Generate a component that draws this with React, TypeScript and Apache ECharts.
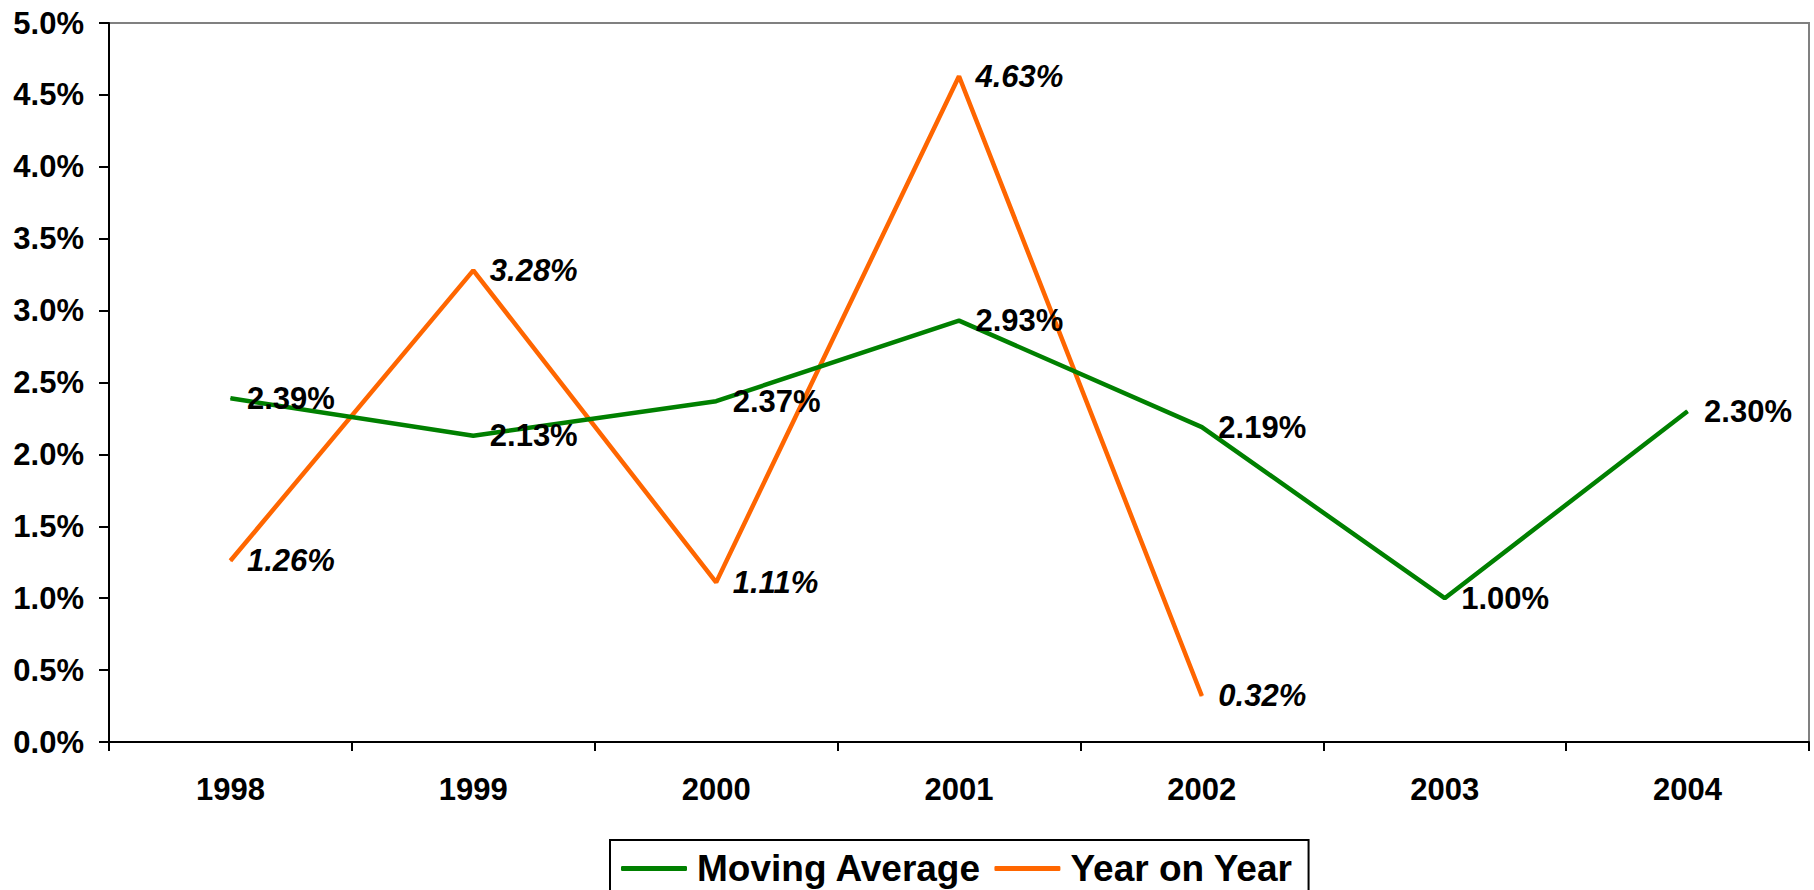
import React, { useEffect, useRef } from "react";
import * as echarts from "echarts";

const years = ["1998", "1999", "2000", "2001", "2002", "2003", "2004"];
const movingAverage = [2.39, 2.13, 2.37, 2.93, 2.19, 1.0, 2.3];
const yearOnYear: (number | null)[] = [1.26, 3.28, 1.11, 4.63, 0.32, null, null];

const FONT = "'Liberation Sans', Arial, sans-serif";

export default function App() {
  const ref = useRef<HTMLDivElement>(null);
  useEffect(() => {
    if (!ref.current) return;
    const chart = echarts.init(ref.current, undefined, { renderer: "svg" });
    const labelBase = {
      show: true,
      position: "right" as const,
      distance: 16,
      color: "#000",
      fontSize: 31,
      fontWeight: "bold" as const,
      fontFamily: FONT,
    };
    chart.setOption({
      animation: false,
      backgroundColor: "#fff",
      grid: {
        left: 109,
        right: 5,
        top: 23,
        bottom: 148,
        show: true,
        borderColor: "#808080",
        borderWidth: 2,
        backgroundColor: "transparent",
      },
      legend: {
        left: 610,
        top: 840,
        padding: [10, 16, 30, 11],
        borderColor: "#000",
        borderWidth: 2,
        itemWidth: 66,
        itemHeight: 5,
        itemGap: 13,
        icon: "roundRect",
        textStyle: {
          fontSize: 37,
          fontWeight: "bold",
          fontFamily: FONT,
          color: "#000",
          padding: [0, 0, 0, 5],
        },
        data: ["Moving Average", "Year on Year"],
      },
      xAxis: {
        type: "category",
        data: years,
        boundaryGap: true,
        axisLine: { show: true, lineStyle: { color: "#000", width: 2 } },
        axisTick: { show: true, length: 9, lineStyle: { color: "#000", width: 2 } },
        axisLabel: {
          margin: 32,
          fontSize: 31,
          fontWeight: "bold",
          fontFamily: FONT,
          color: "#000",
        },
        splitLine: { show: false },
      },
      yAxis: {
        type: "value",
        min: 0,
        max: 5,
        interval: 0.5,
        axisLine: { show: true, lineStyle: { color: "#000", width: 2 } },
        axisTick: { show: true, length: 10, lineStyle: { color: "#000", width: 2 } },
        axisLabel: {
          margin: 25,
          fontSize: 31,
          fontWeight: "bold",
          fontFamily: FONT,
          color: "#000",
          formatter: (v: number) => v.toFixed(1) + "%",
        },
        splitLine: { show: false },
      },
      series: [
        {
          name: "Moving Average",
          type: "line",
          data: movingAverage,
          color: "#008000",
          lineStyle: { color: "#008000", width: 4.5 },
          symbol: "circle",
          symbolSize: 1,
          showSymbol: true,
          itemStyle: { color: "#008000" },
          label: {
            ...labelBase,
            formatter: (p: any) => Number(p.value).toFixed(2) + "%",
          },
          z: 3,
        },
        {
          name: "Year on Year",
          type: "line",
          data: yearOnYear,
          color: "#FF6600",
          lineStyle: { color: "#FF6600", width: 4.5 },
          symbol: "circle",
          symbolSize: 1,
          showSymbol: true,
          itemStyle: { color: "#FF6600" },
          label: {
            ...labelBase,
            fontStyle: "italic",
            formatter: (p: any) => Number(p.value).toFixed(2) + "%",
          },
          z: 2,
        },
      ],
    });
    return () => chart.dispose();
  }, []);
  return (
    <div
      ref={ref}
      style={{ position: "fixed", left: 0, top: 0, width: 1814, height: 890, background: "#fff" }}
    />
  );
}
